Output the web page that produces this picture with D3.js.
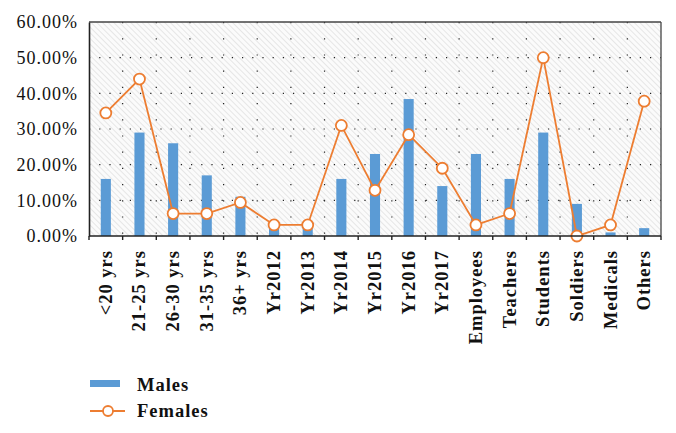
<!DOCTYPE html>
<html><head><meta charset="utf-8">
<script src="https://cdn.jsdelivr.net/npm/d3@7"></script>
<style>body{margin:0;background:#fff}svg{display:block}</style>
</head><body>
<script>
const categories = ["<20 yrs","21-25 yrs","26-30 yrs","31-35 yrs","36+ yrs","Yr2012","Yr2013","Yr2014","Yr2015","Yr2016","Yr2017","Employees","Teachers","Students","Soldiers","Medicals","Others"];
const males   = [0.16,0.29,0.26,0.17,0.11,0.03,0.03,0.16,0.23,0.384,0.14,0.23,0.16,0.29,0.09,0.01,0.022];
const females = [0.345,0.44,0.063,0.063,0.094,0.031,0.031,0.31,0.128,0.284,0.19,0.031,0.063,0.50,0.0,0.031,0.378];
const yTicks = [0,0.1,0.2,0.3,0.4,0.5,0.6];
const seriesNames = ["Males","Females"];

const W=676,H=433;
const L=89,R=661,T=22,B=236;
const svg=d3.select("body").append("svg").attr("width",W).attr("height",H);
const font="Liberation Serif";

const defs=svg.append("defs");
const pat=defs.append("pattern").attr("id","hatch").attr("patternUnits","userSpaceOnUse")
  .attr("width",4).attr("height",4).attr("patternTransform","rotate(-45)");
pat.append("rect").attr("width",4).attr("height",4).attr("fill","#fbfbfb");
pat.append("line").attr("x1",0).attr("y1",0).attr("x2",0).attr("y2",4).attr("stroke","#d6d6d6").attr("stroke-width",1.1);

const x=d3.scaleBand().domain(categories).range([L,R]).padding(0);
const y=d3.scaleLinear().domain([0,0.6]).range([B,T]);

svg.append("rect").attr("x",L).attr("y",T).attr("width",R-L).attr("height",B-T).attr("fill","url(#hatch)");

// gridlines
svg.append("g").selectAll("line").data(yTicks.filter(d=>d>0&&d<0.6)).join("line")
  .attr("x1",L).attr("x2",R).attr("y1",d=>y(d)).attr("y2",d=>y(d))
  .attr("stroke","#222").attr("stroke-width",1.2).attr("stroke-dasharray","1.2,9");
svg.append("g").selectAll("line").data(categories.slice(1)).join("line")
  .attr("x1",d=>x(d)).attr("x2",d=>x(d)).attr("y1",T).attr("y2",B)
  .attr("stroke","#222").attr("stroke-width",1.2).attr("stroke-dasharray","1.2,15");

// bars
const bw=x.bandwidth()*0.3;
svg.append("g").selectAll("rect").data(categories).join("rect")
  .attr("x",d=>x(d)+x.bandwidth()/2-bw/2).attr("width",bw)
  .attr("y",(d,i)=>y(males[i])).attr("height",(d,i)=>B-y(males[i]))
  .attr("fill","#5B9BD5");

// frame
svg.append("line").attr("x1",L).attr("x2",R).attr("y1",T).attr("y2",T).attr("stroke","#444").attr("stroke-width",1.3);
svg.append("line").attr("x1",R).attr("x2",R).attr("y1",T).attr("y2",B).attr("stroke","#444").attr("stroke-width",1.3);

// line
const line=d3.line().x((d,i)=>x(categories[i])+x.bandwidth()/2).y(d=>y(d));
svg.append("path").datum(females).attr("d",line).attr("fill","none").attr("stroke","#ED7D31").attr("stroke-width",1.8);
svg.append("g").selectAll("circle").data(females).join("circle")
  .attr("cx",(d,i)=>x(categories[i])+x.bandwidth()/2).attr("cy",d=>y(d)).attr("r",5.5)
  .attr("fill","#fff").attr("stroke","#ED7D31").attr("stroke-width",1.8);

// y axis
const ya=svg.append("g").attr("transform",`translate(${L},0)`)
  .call(d3.axisLeft(y).tickValues(yTicks).tickFormat(d3.format(".2%")).tickSize(0).tickPadding(11));
ya.attr("font-family",font);
ya.select(".domain").attr("stroke","#222").attr("stroke-width",1.6);
ya.selectAll("text").attr("font-family",font).attr("font-size",18).attr("letter-spacing",1).attr("fill","#111");

// x axis
const xTickPos=d3.range(categories.length+1).map(i=>L+i*x.step());
const xa=svg.append("g");
xa.append("line").attr("x1",L).attr("x2",R).attr("y1",B).attr("y2",B).attr("stroke","#222").attr("stroke-width",1.6);
xa.selectAll("line.t").data(xTickPos).join("line").attr("class","t")
  .attr("x1",d=>d).attr("x2",d=>d).attr("y1",B).attr("y2",B+4).attr("stroke","#222").attr("stroke-width",1.4);
xa.selectAll("text").data(categories).join("text")
  .attr("transform",d=>`translate(${x(d)+x.bandwidth()/2+6},${B+14}) rotate(-90)`)
  .attr("text-anchor","end").attr("font-family",font).attr("font-weight","bold")
  .attr("font-size",18.5).attr("letter-spacing",1).attr("fill","#111").text(d=>d);

// legend
const lg=svg.append("g");
lg.append("rect").attr("x",90).attr("y",380).attr("width",30).attr("height",7).attr("fill","#5B9BD5");
lg.append("text").attr("x",137).attr("y",391).attr("font-family",font).attr("font-weight","bold").attr("font-size",18.5).attr("letter-spacing",1).attr("fill","#111").text(seriesNames[0]);
lg.append("line").attr("x1",90).attr("x2",125).attr("y1",411).attr("y2",411).attr("stroke","#ED7D31").attr("stroke-width",1.8);
lg.append("circle").attr("cx",108).attr("cy",411).attr("r",5).attr("fill","#fff").attr("stroke","#ED7D31").attr("stroke-width",1.8);
lg.append("text").attr("x",137).attr("y",417).attr("font-family",font).attr("font-weight","bold").attr("font-size",18.5).attr("letter-spacing",1).attr("fill","#111").text(seriesNames[1]);
</script>
</body></html>
